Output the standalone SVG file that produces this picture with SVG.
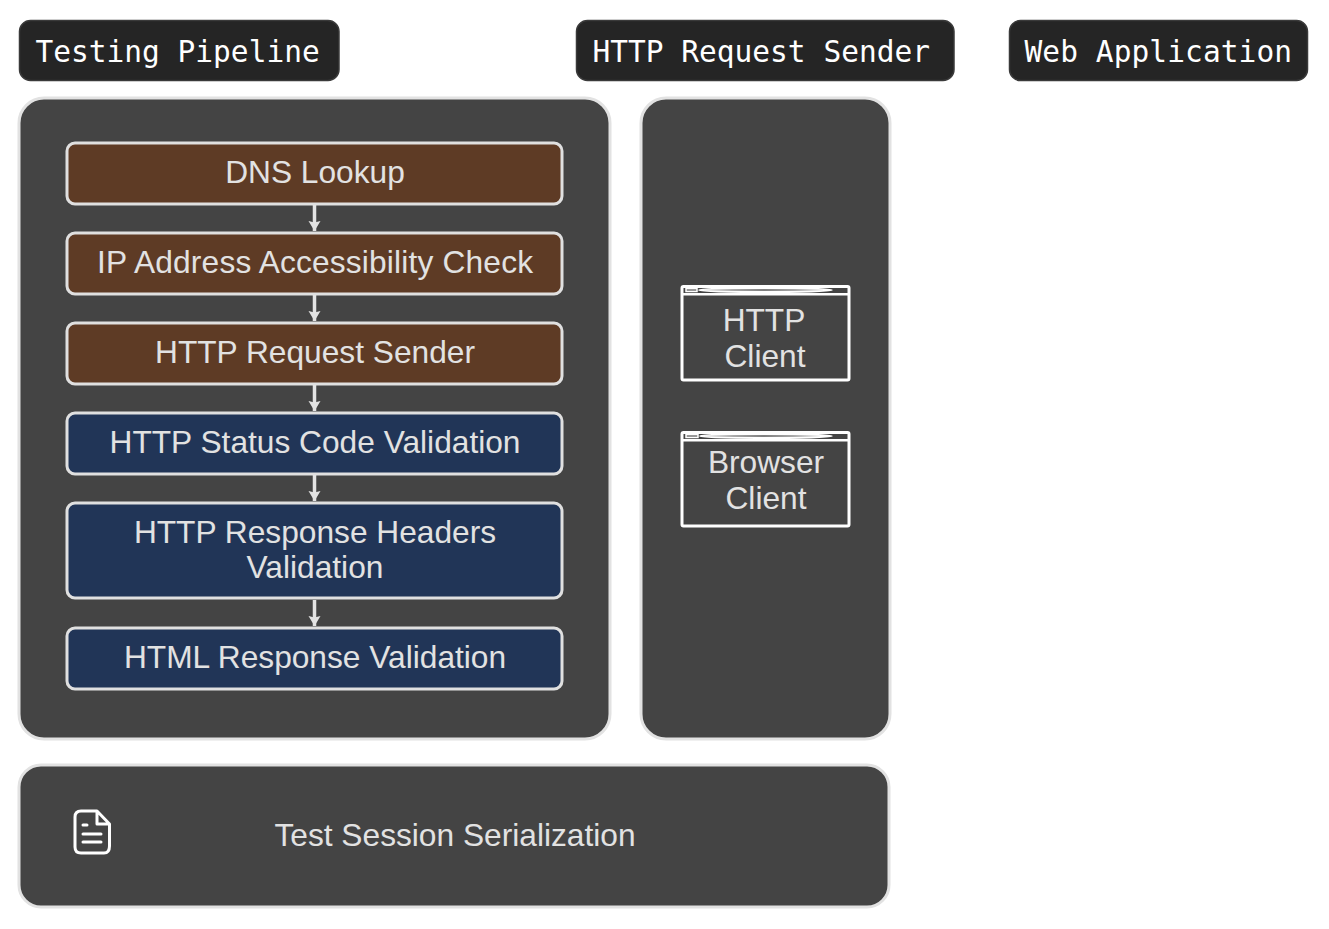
<svg xmlns="http://www.w3.org/2000/svg" width="1329" height="929" viewBox="0 0 1329 929">
<style>
.tag{fill:#252525;stroke:#3a3a3a;stroke-width:1.5}
.tagt{font-family:"DejaVu Sans Mono",monospace;font-size:29.5px;fill:#fff}
.panel{fill:#444;stroke:#e2e2e2;stroke-width:3}
.step{stroke:#e0e0e0;stroke-width:3}
.brown{fill:#5e3b25}
.blue{fill:#213557}
.t{font-family:"Liberation Sans",Arial,sans-serif;font-size:31.7px;fill:#e2e2e2;text-anchor:middle}
.win{fill:none;stroke:#fff;stroke-width:3}
.sep{fill:none;stroke:#fff;stroke-width:2.5}
.bar{fill:#fff}
.barin{fill:#555}
.dots{fill:#777;stroke:#fff;stroke-width:1.500}
.conn{fill:none;stroke:#e4e4e4;stroke-width:3.500}
.icon{fill:none;stroke:#fff;stroke-width:3;stroke-linecap:round;stroke-linejoin:round}
</style>
<defs>
<marker id="arrow" markerUnits="userSpaceOnUse" markerWidth="12" markerHeight="14" refX="10" refY="7" orient="auto"><path d="M0 1L10 7L0 13L1.500 7Z" fill="#e4e4e4"/></marker>
</defs>
<g id="tag-testing-pipeline"><rect class="tag" x="19.500" y="20.500" width="319.500" height="60" rx="11"/><text class="tagt" x="35.500" y="62">Testing Pipeline</text></g>
<g id="tag-http-request-sender"><rect class="tag" x="576.500" y="20.500" width="377.500" height="60" rx="11"/><text class="tagt" x="592.500" y="62">HTTP Request Sender</text></g>
<g id="tag-web-application"><rect class="tag" x="1009.500" y="20.500" width="298" height="60" rx="11"/><text class="tagt" x="1024.500" y="62" textLength="267.500">Web Application</text></g>
<g id="testing-pipeline"><rect class="panel" x="19" y="98" width="591" height="641" rx="25"/></g>
<g id="http-request-sender"><rect class="panel" x="641" y="98" width="249" height="641" rx="25"/></g>
<g id="dns-lookup"><rect class="step brown" x="67" y="143" width="495" height="61" rx="8"/><text class="t" x="315" y="183">DNS Lookup</text></g>
<g id="ip-check"><rect class="step brown" x="67" y="233" width="495" height="61" rx="8"/><text class="t" x="315" y="273" textLength="436">IP Address Accessibility Check</text></g>
<g id="http-request"><rect class="step brown" x="67" y="323" width="495" height="61" rx="8"/><text class="t" x="315" y="363">HTTP Request Sender</text></g>
<g id="status-validation"><rect class="step blue" x="67" y="413" width="495" height="61" rx="8"/><text class="t" x="315" y="453">HTTP Status Code Validation</text></g>
<g id="headers-validation"><rect class="step blue" x="67" y="503" width="495" height="95" rx="8"/><text class="t" x="315" y="543">HTTP Response Headers</text><text class="t" x="315" y="578">Validation</text></g>
<g id="html-validation"><rect class="step blue" x="67" y="628" width="495" height="61" rx="8"/><text class="t" x="315" y="668">HTML Response Validation</text></g>
<g id="connectors">
<path class="conn" marker-end="url(#arrow)" d="M314.500 205V231"/>
<path class="conn" marker-end="url(#arrow)" d="M314.500 295V321"/>
<path class="conn" marker-end="url(#arrow)" d="M314.500 385V411"/>
<path class="conn" marker-end="url(#arrow)" d="M314.500 475V501"/>
<path class="conn" marker-end="url(#arrow)" d="M314.500 600V626"/>
</g>
<g id="http-client"><rect class="win" x="682" y="286.500" width="167" height="93.500" rx="1.500"/><path class="sep" d="M682 294.300H849"/><rect class="dots" x="686" y="288.500" width="11" height="3"/><path class="bar" d="M698 290Q700 287 765 287T833 290Q832 293 765 293T698 290Z"/><path class="barin" d="M702 290Q765 288.500 825 290Q765 291.500 702 290Z"/><text class="t" x="764" y="331">HTTP</text><text class="t" x="765" y="367">Client</text></g>
<g id="browser-client"><rect class="win" x="682" y="432.500" width="167" height="93.500" rx="1.500"/><path class="sep" d="M682 440.300H849"/><rect class="dots" x="686" y="434.500" width="12" height="3"/><path class="bar" d="M699 436Q700 433 765 433T833 436Q832 439 765 439T699 436Z"/><path class="barin" d="M703 436Q765 434.500 822 436Q765 437.500 703 436Z"/><text class="t" x="766" y="473">Browser</text><text class="t" x="766" y="509">Client</text></g>
<g id="test-session-serialization"><rect class="panel" x="19" y="765" width="870" height="142" rx="22"/><path class="icon" d="M81 811H97L109.500 824V846Q109.500 853 104 853H81Q75 853 75 847V817Q75 811 81 811ZM97 811V824H109.500M83 825H87M83 834H101M83 842H101"/><text class="t" x="455" y="846">Test Session Serialization</text></g>
</svg>
